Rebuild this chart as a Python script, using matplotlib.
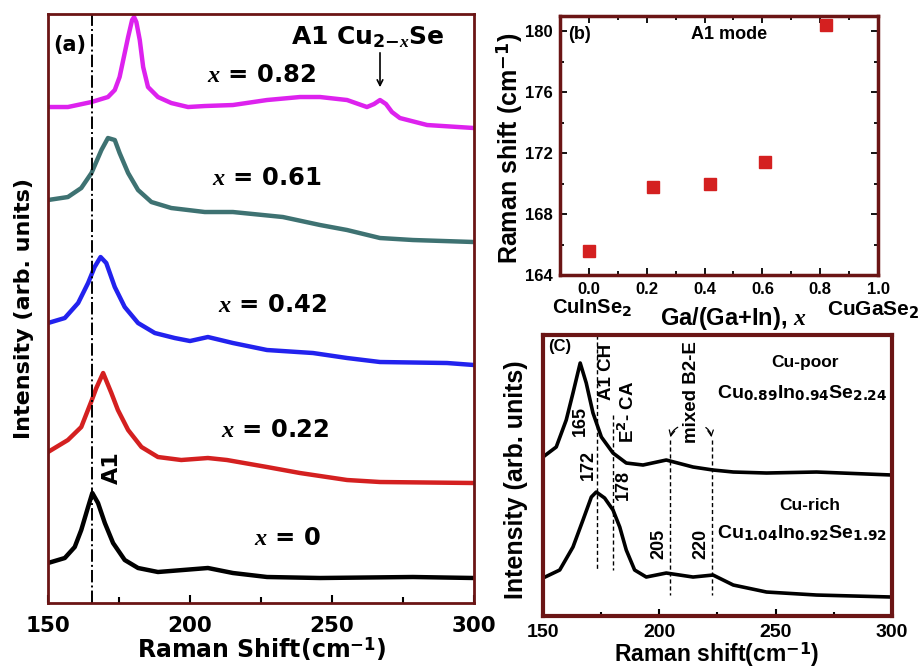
import numpy as np
import matplotlib
matplotlib.use("Agg")
import matplotlib.pyplot as plt

plt.rcParams["font.family"] = ["DejaVu Sans"]
plt.rcParams["font.weight"] = "bold"
plt.rcParams["axes.labelweight"] = "bold"
plt.rcParams["mathtext.fontset"] = "custom"
plt.rcParams["mathtext.rm"] = "DejaVu Sans:bold"
plt.rcParams["mathtext.bf"] = "DejaVu Sans:bold"
plt.rcParams["mathtext.it"] = "Liberation Serif:italic:bold"

FRAME = "#6b1515"
ARIAL = "Liberation Sans"

# ---- panel (a): Raman spectra (arb. units, stacked)
x82 = [150, 157.0, 165.3, 171.1, 173.5, 175.2, 177.0, 178.2, 179.6, 180.3, 181.1, 182.3,
       183.5, 185.2, 188.7, 193.4, 199.3, 205.2, 215.1, 227.1, 238.7, 245.8, 255.3, 262.3,
       264.8, 266.9, 269, 271.1, 273.9, 283.5, 300]
y82 = [496, 496, 501, 506, 513, 526, 550, 566, 583, 586, 581, 563,
       536, 516, 506, 500, 496, 497, 498, 503, 506, 506, 503, 496,
       499, 503, 499, 491, 485, 478, 475]

x61 = [150, 157.0, 161.7, 165.3, 168.8, 171.1, 173.5, 175.2, 178.2, 181.7, 186.4, 193.4,
       205.2, 215.1, 232.7, 245.8, 255.3, 266.9, 278.5, 300]
y61 = [403, 406, 415, 430, 453, 465, 463, 450, 430, 413, 401, 395,
       391, 391, 386, 378, 373, 365, 363, 361]

x42 = [150, 155.9, 160.6, 164.1, 166.4, 168.5, 170.5, 173.5, 177.0, 181.7, 187.6, 194.6,
       200.0, 206.3, 215.1, 227.1, 243.3, 255.3, 266.9, 290.5, 300]
y42 = [280, 285, 300, 320, 336, 346, 340, 316, 296, 280, 270, 265,
       262, 266, 260, 253, 250, 245, 241, 240, 238]

x22 = [150, 157.0, 161.7, 165.3, 167.0, 169.4, 172.3, 174.6, 178.2, 182.9, 188.7, 196.9,
       206.3, 213.0, 227.1, 238.7, 255.3, 266.9, 300]
y22 = [151, 163, 176, 202, 215, 230, 210, 193, 173, 156, 146, 143,
       145, 143, 136, 130, 123, 121, 120]

x00 = [150, 155.9, 159.4, 161.7, 164.1, 165.6, 167.6, 170.0, 172.9, 177.0, 181.7, 188.7,
       197.5, 206.3, 215.1, 227.1, 245.8, 278.5, 300]
y00 = [40, 45, 56, 73, 96, 110, 100, 80, 60, 43, 35, 31,
       33, 35, 30, 26, 25, 26, 25]

spectra_a = [
    (x82, y82, "#dd22ee", r"$x$ = 0.82", (225.3, 528)),
    (x61, y61, "#3e7272", r"$x$ = 0.61", (227.1, 425)),
    (x42, y42, "#2222ee", r"$x$ = 0.42", (229.2, 298)),
    (x22, y22, "#d42020", r"$x$ = 0.22", (229.9, 173)),
    (x00, y00, "#000000", r"$x$ = 0", (234.5, 65)),
]

# ---- panel (b): A1 mode position
ga_frac = [0.0, 0.22, 0.42, 0.61, 0.82]
a1_shift = [165.6, 169.8, 170.0, 171.4, 180.4]

# ---- panel (c): Cu-poor / Cu-rich spectra
xpoor = [150, 155.7, 160.0, 162.9, 166.0, 168.6, 171.5, 175.1, 180.1, 185.8, 193.0, 203.0,
         214.5, 223.1, 231.8, 246.1, 267.6, 300]
ypoor = [159, 169, 196, 223, 253, 233, 203, 179, 163, 153, 151, 156,
         149, 146, 144, 143, 144, 141]
xrich = [150, 157.2, 162.9, 167.2, 170.8, 172.9, 176.5, 180.1, 183.0, 185.8, 189.4, 194.4,
         203.0, 214.5, 223.1, 231.8, 246.1, 267.6, 300]
yrich = [38, 46, 69, 96, 119, 124, 118, 106, 89, 66, 46, 39,
         43, 39, 41, 31, 24, 21, 19]

fig = plt.figure(figsize=(9.22, 6.68), dpi=100)

# ================= (a)
ax = fig.add_axes([0.0521, 0.0973, 0.462, 0.8817])
for xs, ys, c, lab, pos in spectra_a:
    ax.plot(xs, ys, color=c, lw=3.2, solid_joinstyle="round")
    ax.text(pos[0], pos[1], lab, fontsize=17.5, ha="center", va="center")
ax.axvline(165.5, color="black", lw=1.4, ls="-.")
ax.text(157.7, 558, "(a)", fontsize=15, ha="center", va="center")
ax.text(172.5, 135, "A1", fontsize=16, rotation=90, ha="center", va="center")
ax.text(262.5, 566, r"A1 Cu$_{2\mathrm{-}x}$Se", fontsize=18, ha="center", va="center")
ax.annotate("", xy=(266.9, 513), xytext=(266.9, 553),
            arrowprops=dict(arrowstyle="->", color="black", lw=1.2))
ax.set_xlim(150, 300)
ax.set_ylim(0, 589)
ax.set_xticks([150, 200, 250, 300])
ax.set_xticks([175, 225, 275], minor=True)
ax.set_yticks([])
ax.tick_params(axis="x", which="both", direction="in", labelsize=15.5)
ax.tick_params(axis="x", which="major", length=6, width=1.5, pad=9)
ax.tick_params(axis="x", which="minor", length=4, width=1.5)
for sp in ax.spines.values():
    sp.set_color(FRAME)
    sp.set_linewidth(2)
ax.set_xlabel(r"Raman Shift(cm$^{-1}$)", fontsize=17)
ax.xaxis.set_label_coords(0.502, -0.056)
ax.set_ylabel("Intensity (arb. units)", fontsize=16)
ax.yaxis.set_label_coords(-0.033, 0.50)

# ================= (b)
bx = fig.add_axes([0.6074, 0.5883, 0.3449, 0.3877])
bx.plot(ga_frac, a1_shift, ls="none", marker="s", ms=8, color="#d42020")
bx.set_xlim(-0.1, 1.0)
bx.set_ylim(164, 181)
bx.set_xticks(np.arange(0, 1.01, 0.2))
bx.set_xticks(np.arange(-0.1, 1.01, 0.1), minor=True)
bx.set_yticks([164, 168, 172, 176, 180])
bx.set_yticks(np.arange(164, 181, 2), minor=True)
bx.xaxis.set_major_formatter(matplotlib.ticker.FormatStrFormatter("%.1f"))
bx.tick_params(which="both", direction="in", top=True, right=True, labelsize=12, pad=5)
bx.tick_params(which="major", length=5, width=1.3)
bx.tick_params(which="minor", length=3, width=1.3)
for lab in bx.get_xticklabels() + bx.get_yticklabels():
    lab.set_fontfamily(ARIAL)
for sp in bx.spines.values():
    sp.set_color(FRAME)
    sp.set_linewidth(2.5)
bx.text(-0.031, 179.8, "(b)", fontsize=13, ha="center", va="center", family=ARIAL)
bx.text(0.486, 179.8, "A1 mode", fontsize=13, ha="center", va="center", family=ARIAL)
bx.text(0.10, -0.124, r"CuInSe$_2$", fontsize=14.5, ha="center", va="center",
        transform=bx.transAxes, family=ARIAL)
bx.text(0.984, -0.135, r"CuGaSe$_2$", fontsize=15, ha="center", va="center",
        transform=bx.transAxes, family=ARIAL)
bx.set_xlabel(r"Ga/(Ga+In), $x$", fontsize=17, family=ARIAL)
bx.xaxis.set_label_coords(0.544, -0.116)
bx.set_ylabel(r"Raman shift (cm$^{-1}$)", fontsize=18, family=ARIAL)
bx.yaxis.set_label_coords(-0.11, 0.49)

# ================= (c)
cx = fig.add_axes([0.5889, 0.0778, 0.3785, 0.4207])
cx.plot(xpoor, ypoor, color="black", lw=2.6, solid_joinstyle="round")
cx.plot(xrich, yrich, color="black", lw=2.6, solid_joinstyle="round")
dash = dict(color="black", lw=1.0, ls=(0, (3, 2)))
cx.plot([173.1, 173.1], [281, 46], **dash)
cx.plot([180, 180], [201, 46], **dash)
cx.plot([204.6, 204.6], [176, 21], **dash)
cx.plot([222.5, 222.5], [176, 21], **dash)
cx.annotate("", xy=(204.6, 176), xytext=(209, 190),
            arrowprops=dict(arrowstyle="->", lw=0.9, connectionstyle="arc3,rad=0.3"))
cx.annotate("", xy=(222.5, 176), xytext=(219, 190),
            arrowprops=dict(arrowstyle="->", lw=0.9, connectionstyle="arc3,rad=-0.3"))
cx.text(157.3, 270, "(C)", fontsize=12, ha="center", va="center", family=ARIAL)
rot = dict(rotation=90, ha="center", va="center", fontsize=13.5, family=ARIAL)
cx.text(177.4, 244, "A1 CH", **rot)
cx.text(186.7, 204, r"E$^2$- CA", **rot)
cx.text(213.9, 224, "mixed B2-E", **rot)
num = dict(rotation=90, ha="center", va="center", fontsize=13, family=ARIAL)
cx.text(165.9, 195, "165", **num)
cx.text(169.5, 151, "172", **num)
cx.text(184.5, 131, "178", **num)
cx.text(200, 72, "205", **num)
cx.text(217.8, 72, "220", **num)
cx.text(262.6, 254, "Cu-poor", fontsize=12.5, ha="center", va="center", family=ARIAL)
cx.text(261.2, 223, r"Cu$_{0.89}$In$_{0.94}$Se$_{2.24}$", fontsize=14,
        ha="center", va="center", family=ARIAL)
cx.text(264.7, 111, "Cu-rich", fontsize=12.5, ha="center", va="center", family=ARIAL)
cx.text(261.2, 83, r"Cu$_{1.04}$In$_{0.92}$Se$_{1.92}$", fontsize=14,
        ha="center", va="center", family=ARIAL)
cx.set_xlim(150, 300)
cx.set_ylim(0, 281)
cx.set_xticks([150, 200, 250, 300])
cx.set_xticks([175, 225, 275], minor=True)
cx.set_yticks([])
cx.tick_params(axis="x", which="both", direction="in", labelsize=14)
cx.tick_params(axis="x", which="major", length=5, width=1.5, pad=6)
cx.tick_params(axis="x", which="minor", length=3, width=1.5)
for lab in cx.get_xticklabels():
    lab.set_fontfamily(ARIAL)
for sp in cx.spines.values():
    sp.set_color(FRAME)
    sp.set_linewidth(3)
cx.set_xlabel(r"Raman shift(cm$^{-1}$)", fontsize=16.5, family=ARIAL)
cx.xaxis.set_label_coords(0.499, -0.085)
cx.set_ylabel("Intensity (arb. units)", fontsize=18, family=ARIAL)
cx.yaxis.set_label_coords(-0.043, 0.484)

fig.savefig("out.png", dpi=100)
